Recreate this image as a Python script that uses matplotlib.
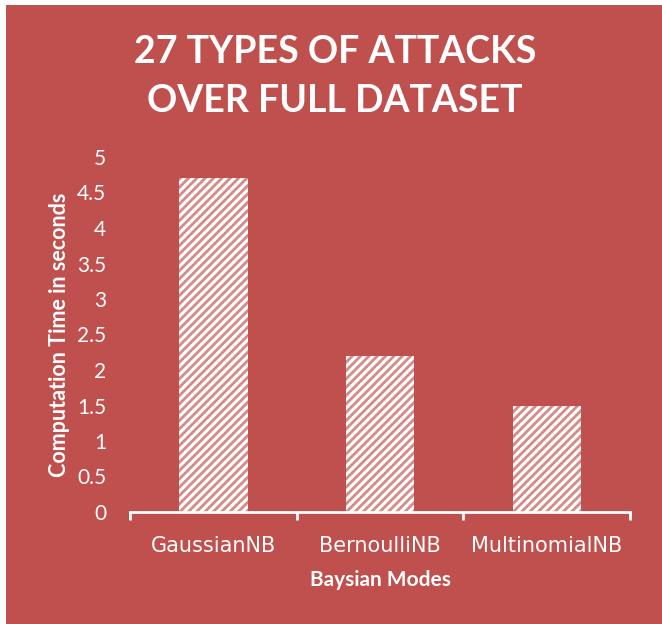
import matplotlib
matplotlib.use("Agg")
import matplotlib.pyplot as plt
from matplotlib.patches import Rectangle

models = ["GaussianNB", "BernoulliNB", "MultinomialNB"]
times = [4.7, 2.2, 1.5]
yticks = [0, 0.5, 1, 1.5, 2, 2.5, 3, 3.5, 4, 4.5, 5]
ytick_labels = ["0", "0.5", "1", "1.5", "2", "2.5", "3", "3.5", "4", "4.5", "5"]

RED = "#C0504D"
plt.rcParams["hatch.linewidth"] = 2.0

fig = plt.figure(figsize=(6.62, 6.24), dpi=100, facecolor="white")
fig.patches.append(Rectangle((6 / 662, 0), 1, 1 - 5 / 624, transform=fig.transFigure,
                             facecolor=RED, edgecolor="none", zorder=-10))

ax = fig.add_axes([130 / 662, 1 - 512 / 624, 500 / 662, 355 / 624])
ax.set_facecolor("none")

x = list(range(len(models)))
ax.bar(x, times, 0.41, color="white", edgecolor="#D68A87", linewidth=0, hatch="////")

ax.set_xlim(-0.5, 2.5)
ax.set_ylim(0, 5)
ax.set_yticks(yticks)
ax.set_yticklabels(ytick_labels, fontsize=15, color="white", family="Lato")
ax.tick_params(axis="y", length=0, pad=17)

ax.set_xticks([-0.5, 0.5, 1.5, 2.5], minor=False)
ax.set_xticklabels([])
ax.tick_params(axis="x", which="major", direction="out", length=6, width=2, color="white")
ax.set_xticks(x, minor=True)
ax.set_xticklabels(models, minor=True, fontsize=15, color="white", family="DejaVu Sans")
ax.tick_params(axis="x", which="minor", length=0, pad=17)

for s in ["top", "right", "left"]:
    ax.spines[s].set_visible(False)
ax.spines["bottom"].set_color("white")
ax.spines["bottom"].set_linewidth(2)

ax.set_ylabel("Computation Time in seconds", fontsize=15.5, fontweight="bold",
              color="white", family="Lato", labelpad=5)
ax.set_xlabel("Baysian Modes", fontsize=15, fontweight="bold",
              color="white", family="Lato", labelpad=10)

fig.text(0.506, 1 - 52 / 624, "27 TYPES OF ATTACKS", ha="center", va="center",
         fontsize=27, fontweight="bold", color="white", family="Lato")
fig.text(0.506, 1 - 101 / 624, "OVER FULL DATASET", ha="center", va="center",
         fontsize=27, fontweight="bold", color="white", family="Lato")

fig.savefig("out.png", dpi=100, facecolor="white")
